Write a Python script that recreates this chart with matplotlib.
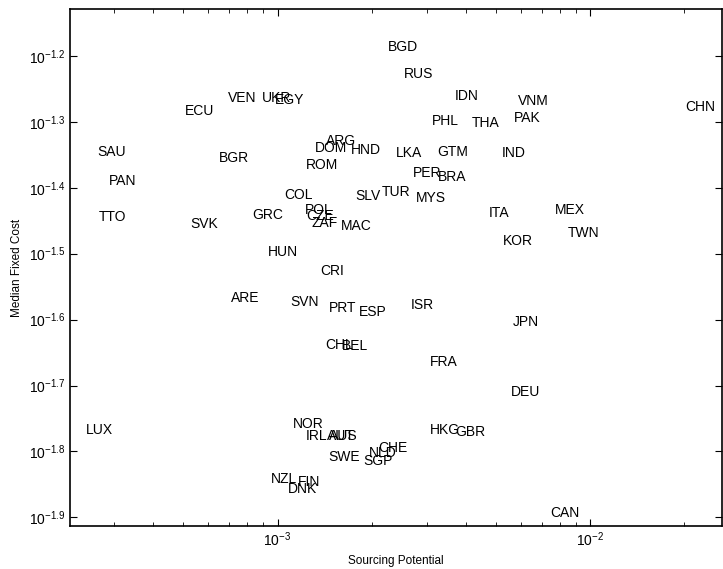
import numpy as np
import matplotlib
matplotlib.use('Agg')
import matplotlib.pyplot as plt
from matplotlib.ticker import FixedLocator, FuncFormatter

# country codes and positions (log10 units)
countries = ['BGD', 'RUS', 'IDN', 'VNM', 'CHN', 'PHL', 'THA', 'PAK', 'ECU', 'VEN',
             'UKR', 'EGY', 'SAU', 'BGR', 'PAN', 'TTO', 'SVK', 'GRC', 'COL', 'ARG',
             'DOM', 'HND', 'ROM', 'LKA', 'GTM', 'IND', 'PER', 'BRA', 'SLV', 'TUR',
             'MYS', 'POL', 'CZE', 'ZAF', 'MAC', 'ITA', 'MEX', 'KOR', 'TWN', 'HUN',
             'CRI', 'ARE', 'SVN', 'PRT', 'ESP', 'ISR', 'JPN', 'CHL', 'BEL', 'FRA',
             'DEU', 'LUX', 'NOR', 'IRL', 'AUT', 'AUS', 'HKG', 'GBR', 'CHE', 'NLD',
             'SWE', 'SGP', 'NZL', 'FIN', 'DNK', 'CAN']

log_potential = [-2.647, -2.596, -2.433, -2.232, -1.694, -2.507, -2.378, -2.243, -3.296, -3.159,
                 -3.050, -3.009, -3.578, -3.188, -3.539, -3.571, -3.280, -3.082, -2.979, -2.845,
                 -2.880, -2.765, -2.909, -2.622, -2.490, -2.282, -2.567, -2.487, -2.752, -2.666,
                 -2.558, -2.912, -2.909, -2.890, -2.797, -2.324, -2.113, -2.279, -2.071, -3.031,
                 -2.864, -3.149, -2.960, -2.835, -2.740, -2.573, -2.248, -2.848, -2.794, -2.513,
                 -2.254, -3.613, -2.950, -2.909, -2.842, -2.836, -2.513, -2.433, -2.678, -2.707,
                 -2.836, -2.726, -3.021, -2.935, -2.967, -2.126]

log_cost = [-1.187, -1.228, -1.261, -1.269, -1.278, -1.299, -1.302, -1.295, -1.284, -1.264,
            -1.264, -1.267, -1.346, -1.355, -1.390, -1.445, -1.455, -1.442, -1.411, -1.329,
            -1.340, -1.343, -1.366, -1.348, -1.346, -1.348, -1.378, -1.384, -1.412, -1.406,
            -1.416, -1.434, -1.443, -1.454, -1.458, -1.439, -1.434, -1.481, -1.469, -1.498,
            -1.527, -1.568, -1.574, -1.583, -1.588, -1.578, -1.604, -1.639, -1.640, -1.665,
            -1.710, -1.767, -1.759, -1.777, -1.777, -1.777, -1.768, -1.770, -1.794, -1.803,
            -1.808, -1.814, -1.841, -1.847, -1.857, -1.894]

y_ticks = [-1.9, -1.8, -1.7, -1.6, -1.5, -1.4, -1.3, -1.2]

plt.rcParams['font.family'] = ['Liberation Sans', 'DejaVu Sans']
plt.rcParams['mathtext.fontset'] = 'custom'
plt.rcParams['mathtext.rm'] = 'Liberation Sans'

potential = 10.0 ** np.array(log_potential)
cost = 10.0 ** np.array(log_cost)

fig = plt.figure(figsize=(7.23, 5.69), dpi=100)
ax = fig.add_axes([70 / 723, 43 / 569, 652 / 723, 517 / 569])
ax.set_xscale('log')
ax.set_yscale('log')
ax.set_xlim(10 ** -3.664, 10 ** -1.578)
ax.set_ylim(10 ** -1.913, 10 ** -1.129)

for name, xv, yv in zip(countries, potential, cost):
    ax.text(xv, yv, name, ha='left', va='center', fontsize=10)

# MATLAB-like ticks
ax.yaxis.set_major_locator(FixedLocator([10 ** t for t in y_ticks]))
ax.yaxis.set_minor_locator(FixedLocator([]))
ax.yaxis.set_major_formatter(FuncFormatter(lambda v, p: r'$\mathregular{10^{%.1f}}$' % np.log10(v)))
ax.tick_params(which='both', direction='in', top=True, right=True, labelsize=10)
ax.tick_params(which='major', length=5)
ax.tick_params(which='minor', length=3)
for s in ax.spines.values():
    s.set_linewidth(1.2)

ax.set_xlabel('Sourcing Potential', fontsize=8.5)
ax.set_ylabel('Median Fixed Cost', fontsize=8.5)

fig.savefig('out.png', dpi=100)
